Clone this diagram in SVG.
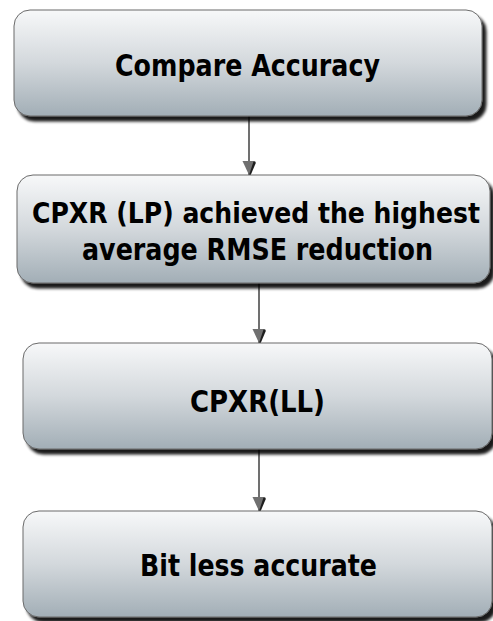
<svg xmlns="http://www.w3.org/2000/svg" width="493" height="621" viewBox="0 0 493 621">
  <defs>
    <linearGradient id="boxFill" x1="0" y1="0" x2="0" y2="1">
      <stop offset="0" stop-color="#f7f8f9"/>
      <stop offset="0.5" stop-color="#d3d8dc"/>
      <stop offset="1" stop-color="#a2aeb6"/>
    </linearGradient>
    <filter id="boxShadow" x="-5%" y="-10%" width="115%" height="130%">
      <feGaussianBlur in="SourceAlpha" stdDeviation="1.6"/>
      <feOffset dx="4" dy="5" result="blur"/>
      <feComponentTransfer in="blur" result="shade">
        <feFuncA type="linear" slope="0.9"/>
      </feComponentTransfer>
      <feMerge>
        <feMergeNode in="shade"/>
        <feMergeNode in="SourceGraphic"/>
      </feMerge>
    </filter>
    <marker id="arrowHead" markerUnits="userSpaceOnUse" viewBox="0 -8 16 16" markerWidth="16" markerHeight="16" refX="14" refY="0" orient="auto" overflow="visible">
      <polygon points="0,6.5 0,-6.5 14,0" fill="#707070"/>
      <polygon points="0.5,-4.5 1.5,-7 14.5,-1.5 14,0" fill="#1e1e1e"/>
    </marker>
    <style>
      .box { fill: url(#boxFill); stroke: #6a6a6a; stroke-width: 1; filter: url(#boxShadow); }
      .label { font-family: "DejaVu Sans Condensed", "DejaVu Sans", sans-serif; font-weight: bold; font-size: 31px; fill: #000; text-anchor: middle; }
      .tight { font-size: 29px; }
      .link { fill: none; stroke: #707070; stroke-width: 2; marker-end: url(#arrowHead); }
    </style>
  </defs>

  <rect width="493" height="621" fill="#ffffff"/>

  <g id="connectors">
    <path class="link" d="M249,116 L249,175"/>
    <path class="link" d="M259,283 L259,343"/>
    <path class="link" d="M259,449 L259,511"/>
  </g>

  <g id="compare-accuracy">
    <rect class="box" x="14" y="10" width="468" height="106" rx="16" ry="16"/>
    <text class="label" x="247.5" y="76" textLength="265" lengthAdjust="spacingAndGlyphs">Compare Accuracy</text>
  </g>

  <g id="cpxr-lp">
    <rect class="box" x="17" y="175" width="473" height="108" rx="16" ry="16"/>
    <text class="label tight" x="256" y="223" textLength="448" lengthAdjust="spacingAndGlyphs">CPXR (LP) achieved the highest</text>
    <text class="label" x="257.5" y="260" textLength="351" lengthAdjust="spacingAndGlyphs">average RMSE reduction</text>
  </g>

  <g id="cpxr-ll">
    <rect class="box" x="23" y="343" width="469" height="106" rx="16" ry="16"/>
    <text class="label" x="257.5" y="412" textLength="135" lengthAdjust="spacingAndGlyphs">CPXR(LL)</text>
  </g>

  <g id="bit-less-accurate">
    <rect class="box" x="23" y="511" width="469" height="106" rx="16" ry="16"/>
    <text class="label" x="258.5" y="576" textLength="237" lengthAdjust="spacingAndGlyphs">Bit less accurate</text>
  </g>
</svg>
